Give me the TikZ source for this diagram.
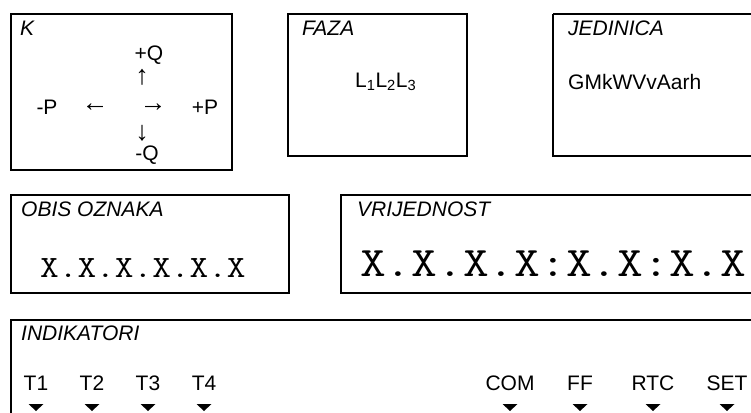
\documentclass[tikz,border=0pt]{standalone}
\usepackage{fontspec}
\usepackage{graphicx}
\setmainfont{Liberation Sans}
\usetikzlibrary{calc}
\newcommand{\widemono}[2]{\scalebox{#1}[1]{#2}}
\begin{document}
\begin{tikzpicture}[x=1pt,y=-1pt,
  box/.style={draw=black,line width=1.6pt},
  lbl/.style={anchor=west,inner sep=0pt,font=\fontsize{21}{24}\selectfont\itshape},
  txt/.style={inner sep=0pt,font=\fontsize{21}{24}\selectfont},
  arr/.style={inner sep=0pt,font=\fontsize{27}{30}\selectfont},
  mono/.style={inner sep=0pt,anchor=west,font=\ttfamily\fontsize{31}{36}\selectfont},
  bigmono/.style={inner sep=0pt,anchor=west,font=\ttfamily\fontsize{42}{48}\selectfont},
  tri/.style={fill=black}]
\useasboundingbox (0,0) rectangle (751,412);
% boxes
\draw[box] (11,14) rectangle (232,170);
\draw[box] (288,14) rectangle (467,156);
\draw[box] (553,14) -- (760,14) (553,14) -- (553,156) -- (760,156);
\draw[box] (11,195) rectangle (289,293);
\draw[box] (760,195) -- (341,195) -- (341,293) -- (760,293);
\draw[box] (760,320) -- (11,320) -- (11,420);
% K box
\node[lbl] (k) at (20,28) {K};
\node[txt] (pq) at (149,55) {+Q};
\node[arr] (up) at (142,77) {↑};
\node[txt] (mp) at (47,107) {-P};
\node[arr] (left) at (95,108) {←};
\node[arr] (right) at (153,108) {→};
\node[txt] (pp) at (205,107) {+P};
\node[arr] (down) at (142,133) {↓};
\node[txt] (mq) at (147,155) {-Q};
% FAZA
\node[lbl] (faza) at (302,28) {FAZA};
\node[txt,anchor=west] (l) at (355,82) {L\textsubscript{1}L\textsubscript{2}L\textsubscript{3}};
% JEDINICA
\node[lbl] (jed) at (568,28) {JEDINICA};
\node[txt,anchor=west] (units) at (568,82) {GMkWVvAarh};
% OBIS
\node[lbl] (obis) at (21,209) {OBIS OZNAKA};
\node[mono] (obisv) at (40,268) {\widemono{1.17}{X.X.X.X.X.X}};
% VRIJEDNOST
\node[lbl] (vri) at (357,209) {VRIJEDNOST};
\node[bigmono] (vriv) at (360,264) {\widemono{1.19}{X.X.X.X:X.X:X.X}};
% INDIKATORI
\node[lbl] (ind) at (21,333) {INDIKATORI};
\foreach \n/\x/\t in {t1/36/T1,t2/92/T2,t3/148/T3,t4/204/T4,com/510/COM,ff/580/FF,rtc/653/RTC,set/727/SET}{
  \node[txt] (\n) at (\x,383) {\t};
  \fill[tri] ($(\n)+(-7.5,21)$) -- ($(\n)+(7.5,21)$) -- ($(\n)+(0,28)$) -- cycle;
}
\end{tikzpicture}
\end{document}
